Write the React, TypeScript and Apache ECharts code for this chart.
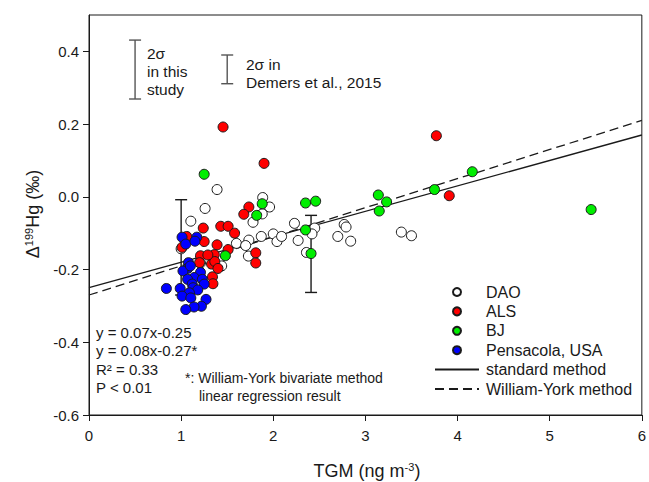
import React, { useEffect, useRef } from "react";
import * as echarts from "echarts";

// ---- data ----
const dao: [number, number][] = [
  [1.39, 0.02], [1.26, -0.032], [1.105, -0.067], [1.885, -0.002], [1.96, -0.028],
  [1.88, -0.047], [1.78, -0.07], [1.735, -0.119], [1.6, -0.128], [1.7, -0.134],
  [1.87, -0.109], [2.0, -0.102], [2.04, -0.123], [2.09, -0.109], [2.23, -0.073],
  [2.27, -0.12], [2.36, -0.153], [1.73, -0.163], [1.0, -0.143], [1.21, -0.182],
  [2.45, -0.086], [2.42, -0.102], [2.77, -0.076], [2.79, -0.083], [2.7, -0.109],
  [2.84, -0.122], [3.39, -0.097], [3.5, -0.107], [1.44, -0.19],
];
const als: [number, number][] = [
  [1.455, 0.192], [1.9, 0.092], [1.735, -0.028], [1.68, -0.048], [1.24, -0.086],
  [1.43, -0.081], [1.51, -0.081], [1.58, -0.1], [1.06, -0.109], [1.25, -0.123],
  [1.39, -0.132], [1.51, -0.145], [1.81, -0.154], [1.81, -0.182], [1.21, -0.162],
  [1.36, -0.159], [1.33, -0.185], [1.365, -0.178], [1.4, -0.197], [1.34, -0.22],
  [1.345, -0.239], [3.77, 0.168], [3.91, 0.003], [1.01, -0.139], [1.2, -0.181],
  [1.29, -0.16],
];
const bj: [number, number][] = [
  [1.25, 0.062], [1.88, -0.019], [1.82, -0.051], [1.48, -0.162], [2.35, -0.017],
  [2.46, -0.012], [2.35, -0.091], [2.41, -0.156], [3.14, 0.005], [3.23, -0.014],
  [3.15, -0.039], [3.75, 0.02], [4.16, 0.069], [5.45, -0.035],
];
const pensacola: [number, number][] = [
  [1.01, -0.111], [1.17, -0.111], [1.05, -0.13], [1.15, -0.122], [1.08, -0.181],
  [1.07, -0.197], [1.02, -0.204], [1.21, -0.208], [1.14, -0.222], [1.07, -0.227],
  [1.23, -0.227], [1.12, -0.24], [1.25, -0.24], [0.84, -0.252], [0.99, -0.252],
  [1.13, -0.25], [1.18, -0.256], [1.09, -0.264], [1.01, -0.273], [1.105, -0.278],
  [1.27, -0.282], [1.22, -0.301], [1.14, -0.303], [1.05, -0.31], [1.1, -0.19],
];
// [x, low, high]
const errorBars: [number, number, number][] = [
  [1.0, -0.27, -0.008],
  [2.41, -0.263, -0.051],
];
const sigmaBars: [number, number, number][] = [
  [0.5, 0.269, 0.431],
  [1.5, 0.311, 0.39],
];
const standardFit: [number, number][] = [[0, -0.25], [6, 0.17]];
const yorkFit: [number, number][] = [[0, -0.27], [6, 0.21]];
const yTickValues = [-0.6, -0.4, -0.2, 0, 0.2, 0.4];
const xTickValues = [0, 1, 2, 3, 4, 5, 6];

const FONT = "'Liberation Sans', Arial, sans-serif";
const INK = "#1a1a1a";

function barRenderer(color: string, cap: number) {
  return (params: any, api: any) => {
    const x = api.value(0);
    const lo = api.coord([x, api.value(1)]);
    const hi = api.coord([x, api.value(2)]);
    const st = { stroke: color, lineWidth: 1.4 };
    return {
      type: "group",
      children: [
        { type: "line", shape: { x1: lo[0], y1: lo[1], x2: hi[0], y2: hi[1] }, style: st },
        { type: "line", shape: { x1: lo[0] - cap, y1: lo[1], x2: lo[0] + cap, y2: lo[1] }, style: st },
        { type: "line", shape: { x1: hi[0] - cap, y1: hi[1], x2: hi[0] + cap, y2: hi[1] }, style: st },
      ],
    };
  };
}

function scatter(name: string, data: [number, number][], color: string) {
  return {
    name,
    type: "scatter",
    data,
    symbol: "circle",
    symbolSize: 10,
    itemStyle: { color, borderColor: INK, borderWidth: 1, opacity: 1 },
    z: 5,
  };
}

export default function App() {
  const ref = useRef<HTMLDivElement>(null);
  useEffect(() => {
    if (!ref.current) return;
    const chart = echarts.init(ref.current, undefined, { renderer: "svg" });
    const txt = (text: string, x: number, y: number, size = 15.5, extra: any = {}) => ({
      type: "text",
      x,
      y,
      style: { text, fontSize: size, fontFamily: FONT, fill: INK, verticalAlign: "middle", ...extra },
    });
    chart.setOption({
      animation: false,
      backgroundColor: "#ffffff",
      grid: {
        left: 89,
        right: 4,
        top: 15,
        bottom: 67,
        show: true,
        borderColor: INK,
        borderWidth: 1,
        backgroundColor: "transparent",
      },
      xAxis: {
        type: "value",
        min: 0,
        max: 6,
        interval: 1,
        splitLine: { show: false },
        axisLine: { show: true, onZero: false, lineStyle: { color: INK, width: 1 } },
        axisTick: { show: true, length: 6, lineStyle: { color: INK }, customValues: xTickValues },
        axisLabel: {
          color: INK,
          fontSize: 15,
          fontFamily: FONT,
          margin: 13,
          customValues: xTickValues,
          formatter: (v: number) => String(v),
        },
      },
      yAxis: {
        type: "value",
        min: -0.6,
        max: 0.5,
        splitLine: { show: false },
        axisLine: { show: true, onZero: false, lineStyle: { color: INK, width: 1 } },
        axisTick: { show: true, length: 6, lineStyle: { color: INK }, customValues: yTickValues },
        axisLabel: {
          color: INK,
          fontSize: 15,
          fontFamily: FONT,
          margin: 10,
          customValues: yTickValues,
          formatter: (v: number) => (Math.abs(v) < 1e-9 ? "0.0" : v.toFixed(1)),
        },
      },
      legend: {
        orient: "vertical",
        left: 434,
        top: 284,
        itemWidth: 44,
        itemHeight: 8,
        itemGap: 3.4,
        padding: 0,
        selectedMode: false,
        textStyle: { fontSize: 16, fontFamily: FONT, color: INK, padding: [0, 0, 0, 2] },
        data: [
          "DAO",
          "ALS",
          "BJ",
          "Pensacola, USA",
          { name: "standard method", itemStyle: { opacity: 0, borderWidth: 0 } },
          { name: "William-York method", itemStyle: { opacity: 0, borderWidth: 0 } },
        ],
      },
      series: [
        {
          name: "standard method",
          type: "line",
          data: standardFit,
          symbol: "none",
          showSymbol: false,
          lineStyle: { color: INK, width: 1.3, type: "solid" },
          itemStyle: { color: INK },
          z: 2,
        },
        {
          name: "William-York method",
          type: "line",
          data: yorkFit,
          symbol: "none",
          showSymbol: false,
          lineStyle: { color: INK, width: 1.3, type: [9, 5] },
          itemStyle: { color: INK },
          z: 2,
        },
        {
          name: "errors",
          type: "custom",
          data: errorBars,
          encode: { x: 0, y: [1, 2] },
          renderItem: barRenderer(INK, 6),
          silent: true,
          z: 3,
        },
        {
          name: "sigma",
          type: "custom",
          data: sigmaBars,
          encode: { x: 0, y: [1, 2] },
          renderItem: barRenderer("#555555", 6),
          silent: true,
          z: 3,
        },
        scatter("DAO", dao, "#ffffff"),
        scatter("ALS", als, "#ff0000"),
        scatter("BJ", bj, "#00ee00"),
        scatter("Pensacola, USA", pensacola, "#0000ff"),
      ],
      graphic: [
        txt("2σ", 147, 53),
        txt("in this", 147, 71),
        txt("study", 147, 89),
        txt("2σ in", 246, 64),
        txt("Demers et al., 2015", 246, 82),
        txt("y = 0.07x-0.25", 96, 332, 15),
        txt("y = 0.08x-0.27*", 96, 350, 15),
        txt("R² = 0.33", 96, 369, 15),
        txt("P < 0.01", 96, 387, 15),
        txt("*: William-York bivariate method", 185, 378, 14),
        txt("linear regression result", 199, 396, 14),
        {
          type: "text",
          x: 367,
          y: 471,
          style: {
            text: "TGM (ng m{sup|-3})",
            fontSize: 18,
            fontFamily: FONT,
            fill: INK,
            align: "center",
            verticalAlign: "middle",
            rich: { sup: { fontSize: 11, fontFamily: FONT, fill: INK, verticalAlign: "top", padding: [0, 0, 8, 0] } },
          },
        },
        {
          type: "text",
          x: 33,
          y: 214,
          rotation: Math.PI / 2,
          style: {
            text: "Δ{sup|199}Hg (‰)",
            fontSize: 18,
            fontFamily: FONT,
            fill: INK,
            align: "center",
            verticalAlign: "middle",
            rich: { sup: { fontSize: 11, fontFamily: FONT, fill: INK, verticalAlign: "top", padding: [0, 0, 8, 0] } },
          },
        },
      ],
    });
    return () => chart.dispose();
  }, []);
  return (
    <div
      ref={ref}
      style={{ position: "fixed", left: 0, top: 0, width: 649, height: 482, background: "#fff" }}
    />
  );
}
